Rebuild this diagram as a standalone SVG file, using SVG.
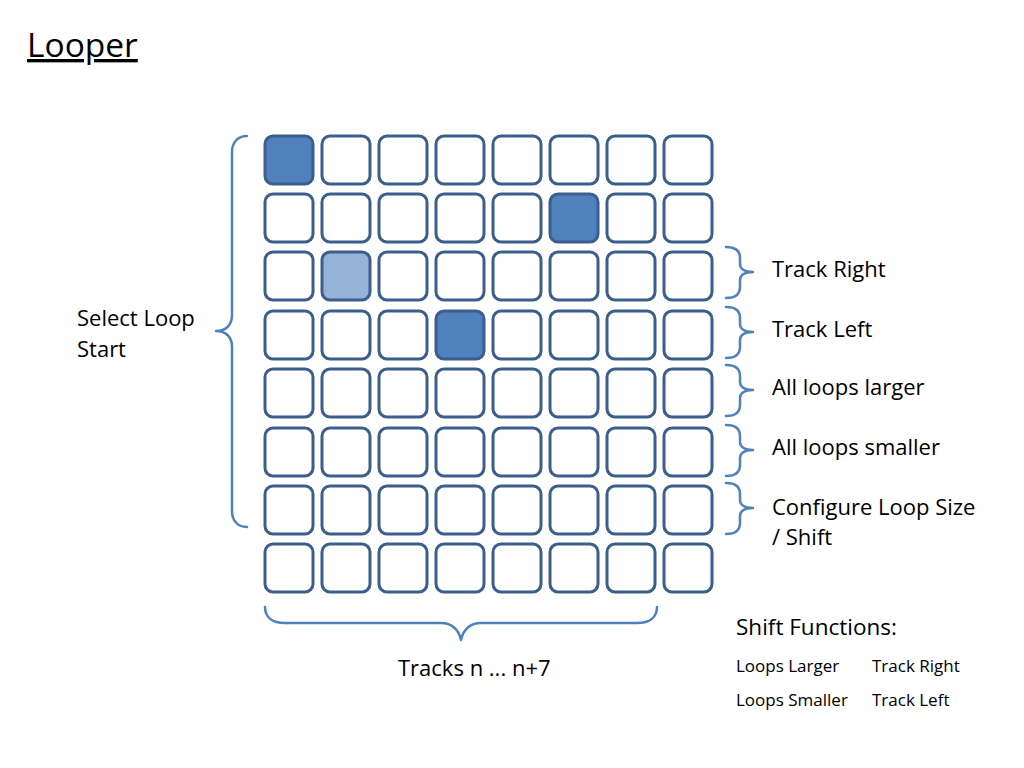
<svg xmlns="http://www.w3.org/2000/svg" width="1024" height="768" viewBox="0 0 1024 768">
<style>
.k{fill:#fff;stroke:#3B5E8C;stroke-width:3}
.d{fill:#4F81BD}
.l{fill:#95B3D7}
.b{fill:none;stroke:#4F81BD;stroke-width:2.5;stroke-linecap:round;stroke-linejoin:round}
text{font-family:"Open Sans","Liberation Sans",sans-serif;fill:#000}
.t{font-size:22px}
.s{font-size:17px}
</style>
<rect width="1024" height="768" fill="#fff"/>
<text x="27" y="57" style="font-size:33.5px" text-decoration="underline">Looper</text>
<g id="grid">
<g id="row1">
<rect class="k d" x="265" y="136" width="48" height="48" rx="8"/><rect class="k" x="322" y="136" width="48" height="48" rx="8"/><rect class="k" x="379" y="136" width="48" height="48" rx="8"/><rect class="k" x="436" y="136" width="48" height="48" rx="8"/><rect class="k" x="493" y="136" width="48" height="48" rx="8"/><rect class="k" x="550" y="136" width="48" height="48" rx="8"/><rect class="k" x="607" y="136" width="48" height="48" rx="8"/><rect class="k" x="664" y="136" width="48" height="48" rx="8"/>
</g>
<g id="row2">
<rect class="k" x="265" y="194" width="48" height="48" rx="8"/><rect class="k" x="322" y="194" width="48" height="48" rx="8"/><rect class="k" x="379" y="194" width="48" height="48" rx="8"/><rect class="k" x="436" y="194" width="48" height="48" rx="8"/><rect class="k" x="493" y="194" width="48" height="48" rx="8"/><rect class="k d" x="550" y="194" width="48" height="48" rx="8"/><rect class="k" x="607" y="194" width="48" height="48" rx="8"/><rect class="k" x="664" y="194" width="48" height="48" rx="8"/>
</g>
<g id="row3">
<rect class="k" x="265" y="252" width="48" height="48" rx="8"/><rect class="k l" x="322" y="252" width="48" height="48" rx="8"/><rect class="k" x="379" y="252" width="48" height="48" rx="8"/><rect class="k" x="436" y="252" width="48" height="48" rx="8"/><rect class="k" x="493" y="252" width="48" height="48" rx="8"/><rect class="k" x="550" y="252" width="48" height="48" rx="8"/><rect class="k" x="607" y="252" width="48" height="48" rx="8"/><rect class="k" x="664" y="252" width="48" height="48" rx="8"/>
</g>
<g id="row4">
<rect class="k" x="265" y="311" width="48" height="48" rx="8"/><rect class="k" x="322" y="311" width="48" height="48" rx="8"/><rect class="k" x="379" y="311" width="48" height="48" rx="8"/><rect class="k d" x="436" y="311" width="48" height="48" rx="8"/><rect class="k" x="493" y="311" width="48" height="48" rx="8"/><rect class="k" x="550" y="311" width="48" height="48" rx="8"/><rect class="k" x="607" y="311" width="48" height="48" rx="8"/><rect class="k" x="664" y="311" width="48" height="48" rx="8"/>
</g>
<g id="row5">
<rect class="k" x="265" y="369" width="48" height="48" rx="8"/><rect class="k" x="322" y="369" width="48" height="48" rx="8"/><rect class="k" x="379" y="369" width="48" height="48" rx="8"/><rect class="k" x="436" y="369" width="48" height="48" rx="8"/><rect class="k" x="493" y="369" width="48" height="48" rx="8"/><rect class="k" x="550" y="369" width="48" height="48" rx="8"/><rect class="k" x="607" y="369" width="48" height="48" rx="8"/><rect class="k" x="664" y="369" width="48" height="48" rx="8"/>
</g>
<g id="row6">
<rect class="k" x="265" y="428" width="48" height="48" rx="8"/><rect class="k" x="322" y="428" width="48" height="48" rx="8"/><rect class="k" x="379" y="428" width="48" height="48" rx="8"/><rect class="k" x="436" y="428" width="48" height="48" rx="8"/><rect class="k" x="493" y="428" width="48" height="48" rx="8"/><rect class="k" x="550" y="428" width="48" height="48" rx="8"/><rect class="k" x="607" y="428" width="48" height="48" rx="8"/><rect class="k" x="664" y="428" width="48" height="48" rx="8"/>
</g>
<g id="row7">
<rect class="k" x="265" y="486" width="48" height="48" rx="8"/><rect class="k" x="322" y="486" width="48" height="48" rx="8"/><rect class="k" x="379" y="486" width="48" height="48" rx="8"/><rect class="k" x="436" y="486" width="48" height="48" rx="8"/><rect class="k" x="493" y="486" width="48" height="48" rx="8"/><rect class="k" x="550" y="486" width="48" height="48" rx="8"/><rect class="k" x="607" y="486" width="48" height="48" rx="8"/><rect class="k" x="664" y="486" width="48" height="48" rx="8"/>
</g>
<g id="row8">
<rect class="k" x="265" y="544" width="48" height="48" rx="8"/><rect class="k" x="322" y="544" width="48" height="48" rx="8"/><rect class="k" x="379" y="544" width="48" height="48" rx="8"/><rect class="k" x="436" y="544" width="48" height="48" rx="8"/><rect class="k" x="493" y="544" width="48" height="48" rx="8"/><rect class="k" x="550" y="544" width="48" height="48" rx="8"/><rect class="k" x="607" y="544" width="48" height="48" rx="8"/><rect class="k" x="664" y="544" width="48" height="48" rx="8"/>
</g>
</g>
<g id="braces">
<path class="b" d="M247,136 C238,136 232,142 232,152 L232,315 C232,325 226,331 216,331 C226,331 232,337 232,347 L232,511 C232,521 238,527 247,527"/>
<path class="b" d="M265,607 C265,617 272,623 285,623 L441,623 C452,623 459,630 461,640 C463,630 470,623 481,623 L637,623 C650,623 657,617 657,607"/>
<path class="b" d="M726,247 C735,247 740,251 740,258 L740,264 C740,269 745,272 753,272 C745,272 740,275 740,280 L740,287 C740,294 735,298 726,298"/>
<path class="b" d="M726,307 C735,307 740,311 740,318 L740,324 C740,329 745,332 753,332 C745,332 740,335 740,340 L740,347 C740,354 735,358 726,358"/>
<path class="b" d="M726,365 C735,365 740,369 740,376 L740,382 C740,387 745,390 753,390 C745,390 740,393 740,398 L740,405 C740,412 735,416 726,416"/>
<path class="b" d="M726,425 C735,425 740,429 740,436 L740,442 C740,447 745,450 753,450 C745,450 740,453 740,458 L740,465 C740,472 735,476 726,476"/>
<path class="b" d="M726,483 C735,483 740,487 740,494 L740,500 C740,505 745,508 753,508 C745,508 740,511 740,516 L740,523 C740,530 735,534 726,534"/>
</g>
<g id="labels">
<text class="t" x="77" y="326">Select Loop</text>
<text class="t" x="77" y="357">Start</text>
<text class="t" x="772" y="277">Track Right</text>
<text class="t" x="772" y="337">Track Left</text>
<text class="t" x="772" y="395">All loops larger</text>
<text class="t" x="772" y="455">All loops smaller</text>
<text class="t" x="772" y="515">Configure Loop Size</text>
<text class="t" x="772" y="545">/ Shift</text>
<text class="t" x="398" y="676">Tracks n ... n+7</text>
<text class="t" x="736" y="635" style="font-size:22.5px">Shift Functions:</text>
<text class="s" x="736" y="672">Loops Larger</text>
<text class="s" x="872" y="672">Track Right</text>
<text class="s" x="736" y="706">Loops Smaller</text>
<text class="s" x="872" y="706">Track Left</text>
</g>
</svg>
